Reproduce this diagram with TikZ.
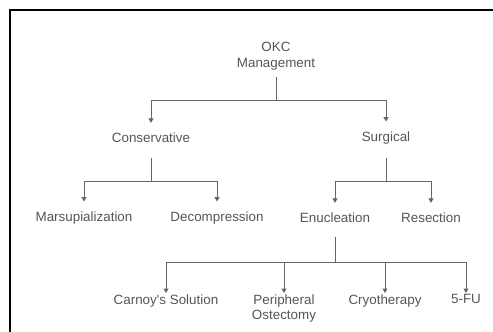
\documentclass[tikz,border=0pt]{standalone}
\usepackage{fontspec}
\setmainfont{Liberation Sans}
\usetikzlibrary{arrows.meta}
\definecolor{txt}{HTML}{555555}
\definecolor{lin}{HTML}{666666}
\tikzset{
  lbl/.style={inner sep=0pt, text=txt, align=center, font=\fontsize{13.4}{15.5}\selectfont},
  ln/.style={draw=lin, line width=1pt},
  arr/.style={ln, -{Triangle[width=5pt,length=4.5pt]}},
}
\begin{document}
\begin{tikzpicture}[x=1pt,y=-1pt]
\useasboundingbox (0,0) rectangle (493,332);
\draw[line width=2.8pt, black] (10,332) -- (10,10) -- (493,10);

\node[lbl] (okc) at (276,56) {OKC\\Management};
\node[lbl] (cons) at (151,138) {Conservative};
\node[lbl] (surg) at (386,138) {Surgical};
\node[lbl] (mars) at (84,218) {Marsupialization};
\node[lbl] (deco) at (217,218) {Decompression};
\node[lbl] (enuc) at (335,218) {Enucleation};
\node[lbl] (rese) at (431,218) {Resection};
\node[lbl, anchor=north] (carn) at (166,294.5) {Carnoy\textquotesingle s Solution};
\node[lbl, anchor=north] (peri) at (284,294.5) {Peripheral\\Ostectomy};
\node[lbl, anchor=north] (cryo) at (385,294.5) {Cryotherapy};
\node[lbl, anchor=north] (fu) at (466,294.5) {5-FU};

\coordinate (j0) at (276,100);
\coordinate (j1) at (151,181);
\coordinate (j2) at (386,181);
\coordinate (j3) at (335,262);

\draw[ln] (okc) ++(0,21) -- (j0);
\draw[arr, shorten >=10pt] (j0) -| (cons.north);
\draw[arr, shorten >=10pt] (j0) -| (surg.north);

\draw[ln] (cons) ++(0,20) -- (j1);
\draw[arr, shorten >=10pt] (j1) -| (mars.north);
\draw[arr, shorten >=10pt] (j1) -| (deco.north);

\draw[ln] (surg) ++(0,20) -- (j2);
\draw[arr, shorten >=10pt] (j2) -| (enuc.north);
\draw[arr, shorten >=10pt] (j2) -| (rese.north);

\draw[ln] (enuc) ++(0,19) -- (j3);
\draw[arr, shorten >=1.5pt] (j3) -| (carn.north);
\draw[arr, shorten >=1.5pt] (j3) -| (peri.north);
\draw[arr, shorten >=1.5pt] (j3) -| (cryo.north);
\draw[arr, shorten >=1.5pt] (j3) -| (fu.north);
\end{tikzpicture}
\end{document}
